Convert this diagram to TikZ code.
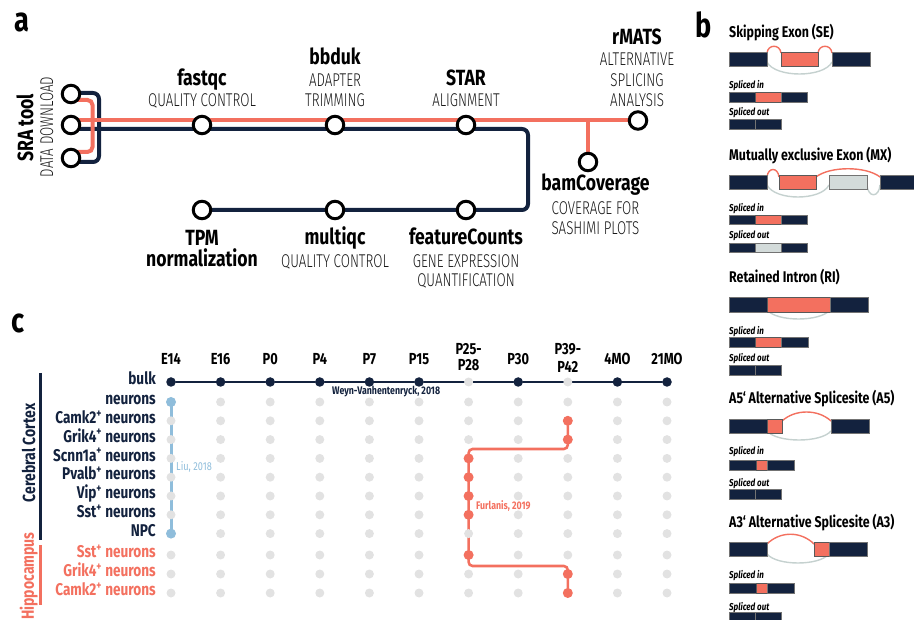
\documentclass[tikz,border=0pt]{standalone}
\usepackage{fontspec}
\setmainfont{Fira Sans}[FakeStretch=0.8]
\newfontfamily\lightf{Fira Sans Light}[FakeStretch=0.72]
\newfontfamily\plainf{Fira Sans}
\newfontfamily\plainlightf{Fira Sans Light}
\pgfdeclarelayer{bg}
\pgfsetlayers{bg,main}
\definecolor{navy}{HTML}{13223E}
\definecolor{salmon}{HTML}{F3705F}
\definecolor{dotgrey}{HTML}{E2E2E2}
\definecolor{exgrey}{HTML}{D3DBDA}
\definecolor{arcgrey}{HTML}{C5D1CF}
\definecolor{liublue}{HTML}{8FBDDB}
\tikzset{
  station/.style={circle,draw=black,fill=white,line width=3pt,minimum size=17.5pt,inner sep=0pt},
  navyline/.style={draw=navy,line width=4pt},
  salmonline/.style={draw=salmon,line width=4pt},
  tool/.style={font=\fontsize{22}{22}\selectfont\bfseries,text=black,inner sep=0pt,anchor=base},
  desc/.style={font=\lightf\fontsize{18.5}{18.5}\selectfont,text=black!90,inner sep=0pt,anchor=base},
  rtool/.style={font=\plainf\fontsize{22}{22}\selectfont\bfseries,text=black,inner sep=0pt,anchor=base,cm={0,0.8,-1,0,(0,0)}},
  rdesc/.style={font=\plainlightf\fontsize{18.5}{18.5}\selectfont,text=black!90,inner sep=0pt,anchor=base,cm={0,0.72,-1,0,(0,0)}},
  panel/.style={font=\fontsize{34}{34}\selectfont\bfseries,inner sep=0pt,anchor=base west},
  bhead/.style={font=\fontsize{15.5}{15.5}\selectfont\bfseries,text=black,inner sep=0pt,anchor=base west},
  spl/.style={font=\fontsize{10}{10}\selectfont\bfseries\itshape,text=black,inner sep=0pt,anchor=base west},
  exon/.style={fill=navy,draw=black!55,line width=0.7pt},
  altex/.style={fill=salmon,draw=black!65,line width=0.8pt},
  greyex/.style={fill=exgrey,draw=black!55,line width=0.8pt},
  sarc/.style={draw=salmon,line width=1.4pt},
  garc/.style={draw=arcgrey,line width=1.4pt},
  gdot/.style={circle,fill=dotgrey,minimum size=9pt,inner sep=0pt},
  ndot/.style={circle,fill=navy,minimum size=9.5pt,inner sep=0pt},
  fdot/.style={circle,fill=salmon,minimum size=10pt,inner sep=0pt},
  ldot/.style={circle,fill=liublue,minimum size=10pt,inner sep=0pt},
  colhead/.style={font=\fontsize{16}{16}\selectfont\bfseries,text=black,inner sep=0pt,anchor=base},
  rowlab/.style={font=\fontsize{17}{17}\selectfont\bfseries,inner sep=0pt,anchor=mid east},
  grouplab/.style={font=\plainf\fontsize{17.5}{17.5}\selectfont\bfseries,inner sep=0pt,anchor=base,cm={0,0.8,-1,0,(0,0)}},
  cite/.style={font=\fontsize{11}{11}\selectfont\bfseries,inner sep=0pt,anchor=base west},
}
\begin{document}
\begin{tikzpicture}[x=1pt,y=-1pt]
\useasboundingbox (0,0) rectangle (914,620);

% ---------------- panel a ----------------
\node[panel] (pa) at (14,32) {a};
\node[station] (s1) at (71,94) {};
\node[station] (s2) at (71,125) {};
\node[station] (s3) at (71,158) {};
\node[station] (fq) at (202,125) {};
\node[station] (bb) at (335,125) {};
\node[station] (st) at (466,125) {};
\node[station] (rm) at (638,120.5) {};
\node[station] (bc) at (588,162) {};
\node[station] (fc) at (466,210) {};
\node[station] (mq) at (335,210) {};
\node[station] (tpm) at (202,210) {};
\coordinate (nj) at (99,129);
\coordinate (sj) at (92.5,120.5);
\coordinate (nturn) at (528,129);
\coordinate (bj) at (588,120.5);

\begin{pgfonlayer}{bg}
\draw[navyline,rounded corners=6] ([yshift=1pt]s1.center) -| (nj) |- ([yshift=-4pt]s3.center);
\draw[navyline,rounded corners=6] ([yshift=-4pt]s2.center) -- (nturn) |- (tpm.center);
\draw[salmonline,rounded corners=5] ([yshift=-6pt]s1.center) -| (sj) |- ([yshift=6pt]s3.center);
\draw[salmonline] ([yshift=4.5pt]s2.center) -- (rm.center);
\draw[salmonline] (bj) -- (bc.center);
\end{pgfonlayer}

\node[rtool] (sra) at (33,128) {SRA tool};
\node[rdesc] (srad) at (53,127) {DATA DOWNLOAD};
\node[tool] (fqt) at (202,86) {fastqc};
\node[desc] (fqd) at (202,107) {QUALITY CONTROL};
\node[tool] (bbt) at (335,65) {bbduk};
\node[desc] (bbd1) at (335,87) {ADAPTER};
\node[desc] (bbd2) at (335,107) {TRIMMING};
\node[tool] (stt) at (466,86) {STAR};
\node[desc] (std) at (466,107) {ALIGNMENT};
\node[tool] (rmt) at (637,45) {rMATS};
\node[desc] (rmd1) at (637,66) {ALTERNATIVE};
\node[desc] (rmd2) at (637,87) {SPLICING};
\node[desc] (rmd3) at (637,107) {ANALYSIS};
\node[tool] (bct) at (595.5,191) {bamCoverage};
\node[desc] (bcd1) at (595.5,215) {COVERAGE FOR};
\node[desc] (bcd2) at (595.5,235) {SASHIMI PLOTS};
\node[tool] (tpmt1) at (202,246) {TPM};
\node[tool] (tpmt2) at (202,267) {normalization};
\node[tool] (mqt) at (335,245) {multiqc};
\node[desc] (mqd) at (335,268) {QUALITY CONTROL};
\node[tool] (fct) at (466,245) {featureCounts};
\node[desc] (fcd1) at (466,268) {GENE EXPRESSION};
\node[desc] (fcd2) at (466,287) {QUANTIFICATION};

% ---------------- panel b ----------------
\node[panel] (pb) at (695,38) {b};
% SE
\node[bhead] (hse) at (729,38) {Skipping Exon (SE)};
\draw[sarc] (767,53) .. controls (768,44) and (780,44) .. (781,53);
\draw[sarc] (818,53) .. controls (819,44) and (831,44) .. (832,53);
\draw[garc] (767,62) .. controls (775,78) and (824,78) .. (832,62);
\draw[exon] (729,52) rectangle (767,66);
\draw[altex] (781,52) rectangle (818,66);
\draw[exon] (832,52) rectangle (870,66);
\node[spl] (sei) at (729,89) {Spliced in};
\draw[exon] (729,92) rectangle (755,102);
\draw[altex] (755,92) rectangle (781,102);
\draw[exon] (781,92) rectangle (807,102);
\node[spl] (seo) at (729,116) {Spliced out};
\draw[exon] (729,119) rectangle (755,129);
\draw[exon] (755,119) rectangle (781,129);
% MX
\node[bhead] (hmx) at (729,161) {Mutually exclusive Exon (MX)};
\draw[sarc] (767,177) .. controls (768,167) and (778,167) .. (779,177);
\draw[sarc] (816,177) .. controls (830,166) and (866,166) .. (880,177);
\draw[garc] (767,185) .. controls (775,201) and (821,201) .. (829,185);
\draw[garc] (867,185) .. controls (868,198) and (879,198) .. (880,185);
\draw[exon] (729,175) rectangle (767,189);
\draw[altex] (779,175) rectangle (816,189);
\draw[greyex] (829,175) rectangle (867,189);
\draw[exon] (880,175) rectangle (916,189);
\node[spl] (mxi) at (729,212) {Spliced in};
\draw[exon] (729,215) rectangle (755,224);
\draw[altex] (755,215) rectangle (781,224);
\draw[exon] (781,215) rectangle (807,224);
\node[spl] (mxo) at (729,239) {Spliced out};
\draw[exon] (729,243) rectangle (755,252);
\draw[greyex] (755,243) rectangle (781,252);
\draw[exon] (781,243) rectangle (807,252);
% RI
\node[bhead] (hri) at (729,283) {Retained Intron (RI)};
\draw[garc] (767,310) .. controls (777,322) and (820,322) .. (830,310);
\draw[exon] (729,297) rectangle (767,312);
\draw[altex] (767,297) rectangle (830,312);
\draw[exon] (830,297) rectangle (868,312);
\node[spl] (rii) at (729,335) {Spliced in};
\draw[exon] (729,337) rectangle (755,347);
\draw[altex] (755,337) rectangle (781,347);
\draw[exon] (781,337) rectangle (808,347);
\node[spl] (rio) at (729,362) {Spliced out};
\draw[exon] (729,365) rectangle (755,375);
\draw[exon] (755,365) rectangle (781,375);
% A5
\node[bhead] (ha5) at (729,404) {A5‘ Alternative Splicesite (A5)};
\draw[sarc] (782,421) .. controls (795,409) and (818,409) .. (831,421);
\draw[garc] (767,431) .. controls (777,443) and (821,443) .. (831,431);
\draw[exon] (729,419) rectangle (767,433);
\draw[altex] (767,419) rectangle (782,433);
\draw[exon] (831,419) rectangle (869,433);
\node[spl] (a5i) at (729,455) {Spliced in};
\draw[exon] (729,460) rectangle (756,470);
\draw[altex] (756,460) rectangle (767,470);
\draw[exon] (767,460) rectangle (794,470);
\node[spl] (a5o) at (729,487) {Spliced out};
\draw[exon] (729,489) rectangle (755,499);
\draw[exon] (755,489) rectangle (781,499);
% A3
\node[bhead] (ha3) at (729,528) {A3‘ Alternative Splicesite (A3)};
\draw[sarc] (767,544) .. controls (780,531) and (801,531) .. (814,544);
\draw[garc] (767,554) .. controls (777,566) and (819,566) .. (829,554);
\draw[exon] (729,542) rectangle (767,556);
\draw[altex] (814,542) rectangle (829,556);
\draw[exon] (829,542) rectangle (867,556);
\node[spl] (a3i) at (729,578) {Spliced in};
\draw[exon] (729,583) rectangle (756,593);
\draw[altex] (756,583) rectangle (767,593);
\draw[exon] (767,583) rectangle (794,593);
\node[spl] (a3o) at (729,610) {Spliced out};
\draw[exon] (729,612) rectangle (755,622);
\draw[exon] (755,612) rectangle (781,622);

% ---------------- panel c ----------------
\node[panel] (pc) at (11,333) {c};
\foreach \lab [count=\c] in {E14,E16,P0,P4,P7,P15,,P30,,4MO,21MO}
  \node[colhead] (h\c) at ({171+49.6*(\c-1)},365) {\lab};
\node[colhead] (h7a) at (468.6,355) {P25-};
\node[colhead] (h7b) at (468.6,371) {P28};
\node[colhead] (h9a) at (567.8,355) {P39-};
\node[colhead] (h9b) at (567.8,373) {P42};

\foreach \y [count=\r] in {382,402,420.8,439.6,458.4,477.2,496,514.8,533.6,555,574,593}
  \foreach \c in {1,...,11}
    \node[gdot] (d-\r-\c) at ({171+49.6*(\c-1)},\y) {};

\coordinate (fa) at (567.8,449);
\coordinate (fb) at (468.6,449);
\coordinate (fcc) at (468.6,566);
\coordinate (fd) at (567.8,566);
\begin{pgfonlayer}{bg}
\draw[navy,line width=2.6pt] (d-1-1.center) -- (d-1-11.center);
\draw[liublue,line width=3pt] (d-2-1.center) -- (d-9-1.center);
\draw[salmon,line width=2.6pt,rounded corners=4] (d-3-9.center) -- (fa) -- (fb) -- (fcc) -- (fd) -- (d-12-9.center);
\end{pgfonlayer}
\foreach \c in {1,2,3,4,5,6,8,10,11}
  \node[ndot] (n-\c) at (d-1-\c) {};
\node[ldot] (l-2) at (d-2-1) {};
\node[ldot] (l-9) at (d-9-1) {};
\foreach \r/\c in {3/9,4/9,5/7,6/7,7/7,8/7,10/7,11/9,12/9}
  \node[fdot] (f-\r-\c) at (d-\r-\c) {};

\node[rowlab,text=navy] (r1) at (156,382) {bulk};
\node[rowlab,text=navy] (r2) at (156,402) {neurons};
\node[rowlab,text=navy] (r3) at (156,420.8) {Camk2\textsuperscript{+} neurons};
\node[rowlab,text=navy] (r4) at (156,439.6) {Grik4\textsuperscript{+} neurons};
\node[rowlab,text=navy] (r5) at (156,458.4) {Scnn1a\textsuperscript{+} neurons};
\node[rowlab,text=navy] (r6) at (156,477.2) {Pvalb\textsuperscript{+} neurons};
\node[rowlab,text=navy] (r7) at (156,496) {Vip\textsuperscript{+} neurons};
\node[rowlab,text=navy] (r8) at (156,514.8) {Sst\textsuperscript{+} neurons};
\node[rowlab,text=navy] (r9) at (156,533.6) {NPC};
\node[rowlab,text=salmon] (r10) at (156,555) {Sst\textsuperscript{+} neurons};
\node[rowlab,text=salmon] (r11) at (156,574) {Grik4\textsuperscript{+} neurons};
\node[rowlab,text=salmon] (r12) at (156,593) {Camk2\textsuperscript{+} neurons};

\coordinate (ct) at (40,373);
\coordinate (cb) at (40,540);
\coordinate (ht) at (40,545);
\coordinate (hb) at (40,605);
\draw[navy,line width=3pt] (ct) -- (cb);
\draw[salmon,line width=3pt] (ht) -- (hb);
\node[grouplab,text=navy] (gcc) at (35,453) {Cerebral Cortex};
\node[grouplab,text=salmon] (ghc) at (34,576) {Hippocampus};

\node[cite,text=navy] (cw) at (332,395) {Weyn-Vanhentenryck, 2018};
\node[cite,text=liublue,font=\fontsize{11.5}{11.5}\selectfont] (cl) at (176,471) {Liu, 2018};
\node[cite,text=salmon] (cf) at (476,509) {Furlanis, 2019};
\end{tikzpicture}
\end{document}
